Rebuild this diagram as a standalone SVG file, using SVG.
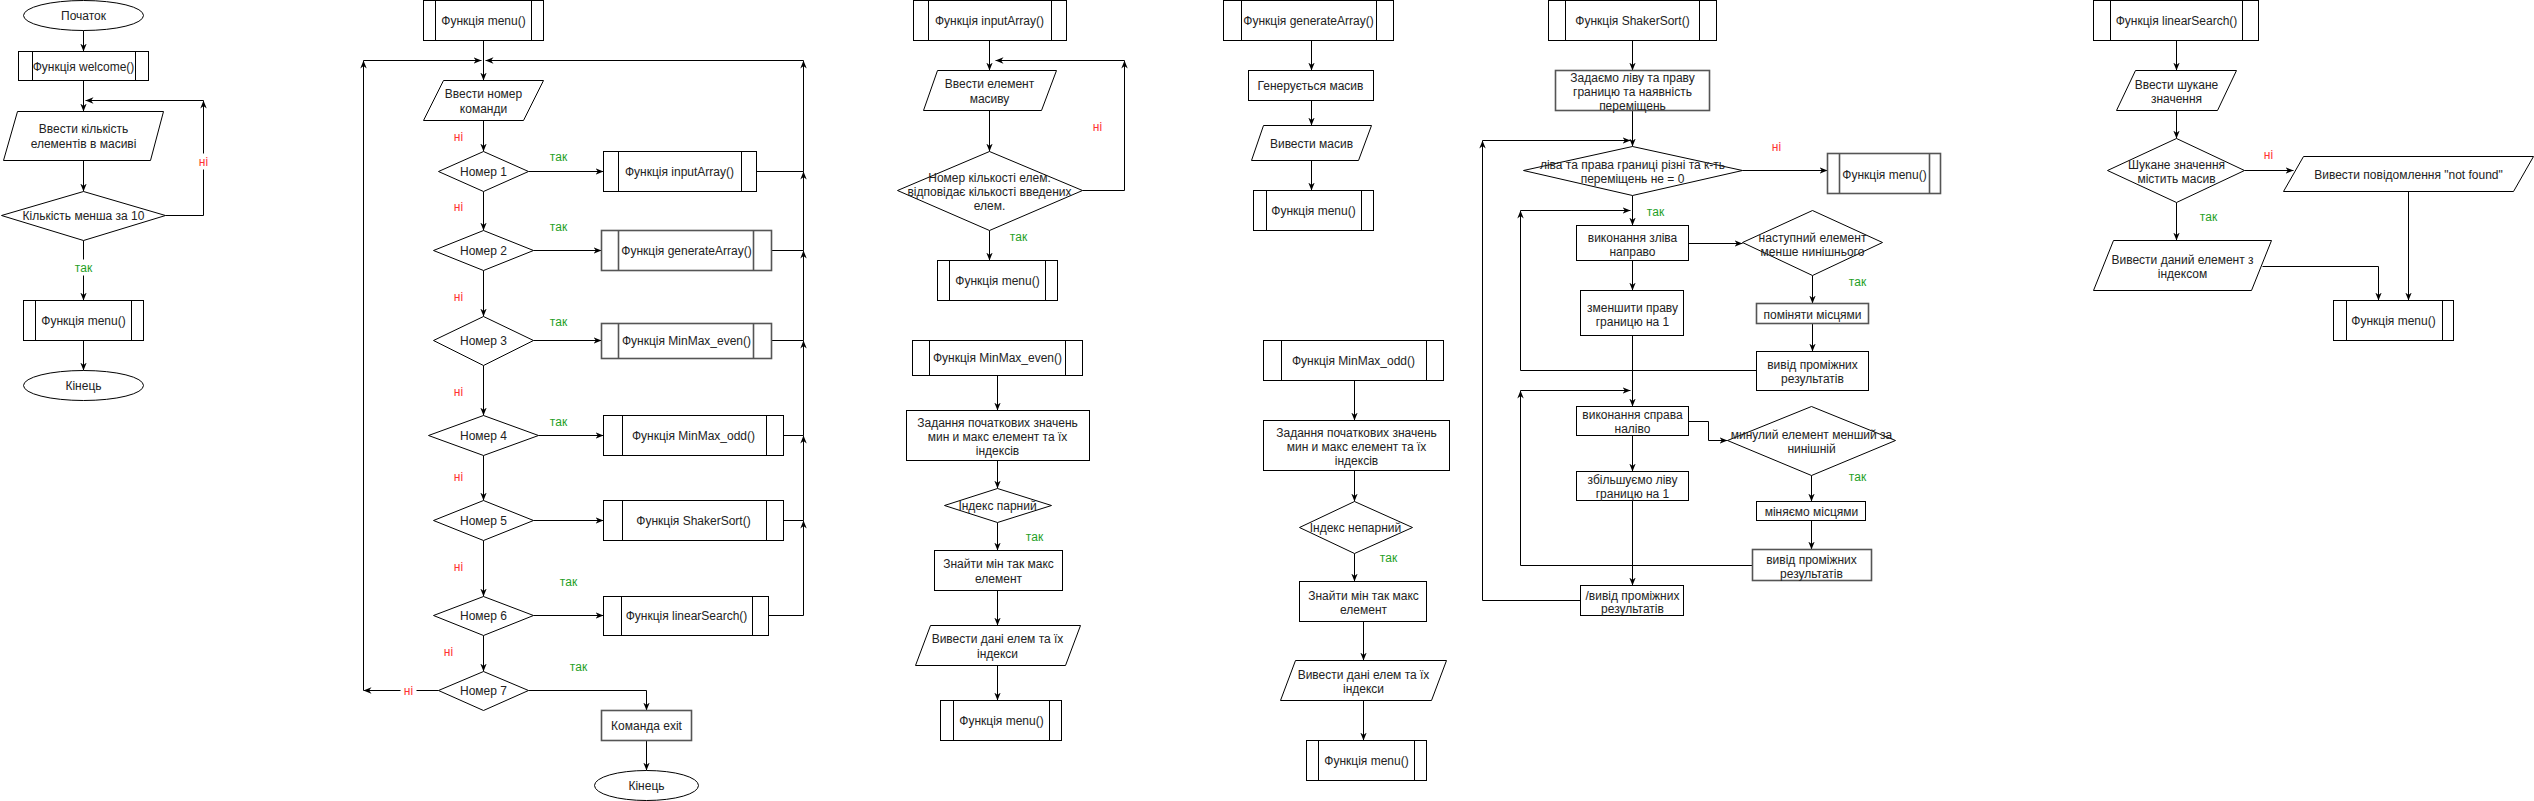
<svg xmlns="http://www.w3.org/2000/svg" width="2534" height="801" viewBox="0 0 2534 801">
<defs>
<marker id="a" viewBox="0 0 10 10" refX="10" refY="5" markerWidth="8" markerHeight="8" markerUnits="userSpaceOnUse" orient="auto">
<path d="M0,1 L10,5 L0,9 L3,5 z" fill="#000"/>
</marker>
<style>
.n rect,.n polygon,.n ellipse{fill:#fff;stroke:#000;stroke-width:1}
.n line{stroke:#000;stroke-width:1}
.n.s rect,.n.s line,.n.s polygon{stroke:#555;stroke-width:1.6}
text{font-family:"Liberation Sans",Arial,Helvetica,sans-serif;font-size:12px;fill:#222;text-anchor:middle}
.c path{fill:none;stroke:#000;stroke-width:1;marker-end:url(#a)}
.c path.p{marker-end:none}
.yes{fill:#1f9f1f}
.no{fill:#ff3333}
.bg{fill:#fff;stroke:none}
</style>
</defs>
<rect width="2534" height="801" fill="#fff"/>
<g transform="translate(0.5,0.5)">
<!-- connectors -->
<g id="connectors" class="c">
<!-- column 1 -->
<path d="M83,30 V51"/>
<path d="M83,80 V111"/>
<path d="M83,160 V191"/>
<path d="M165,215 H203 V100"/>
<path d="M203,100 H85"/>
<path d="M83,240 V300"/>
<path d="M83,340 V370"/>
<rect class="bg" x="196" y="153" width="14" height="16"/>
<text class="no" x="203" y="165">ні</text>
<rect class="bg" x="72" y="259" width="22" height="16"/>
<text class="yes" x="83" y="271">так</text>
<!-- column 2 -->
<path d="M483,40 V80"/>
<path d="M803,60 H485"/>
<path d="M363,60 H481"/>
<path d="M756,171 H803 V60"/>
<path d="M771,250 H803 V171"/>
<path d="M771,340 H803 V250"/>
<path d="M783,435 H803 V340"/>
<path d="M783,520 H803 V435"/>
<path d="M768,615 H803 V520"/>
<path d="M438,690 H363"/>
<path d="M363,690 V60"/>
<path d="M483,120 V151"/>
<path d="M528,171 H603"/>
<path d="M483,191 V230"/>
<path d="M533,250 H601"/>
<path d="M483,270 V316"/>
<path d="M533,340 H601"/>
<path d="M483,365 V415"/>
<path d="M538,435 H603"/>
<path d="M483,455 V500"/>
<path d="M533,520 H603"/>
<path d="M483,540 V596"/>
<path d="M533,615 H603"/>
<path d="M483,635 V671"/>
<path d="M528,690 H646 V710"/>
<path d="M646,740 V770"/>
<text class="no" x="458" y="140">ні</text>
<text class="yes" x="558" y="160">так</text>
<text class="no" x="458" y="210">ні</text>
<text class="yes" x="558" y="230">так</text>
<text class="no" x="458" y="300">ні</text>
<text class="yes" x="558" y="325">так</text>
<text class="no" x="458" y="395">ні</text>
<text class="yes" x="558" y="425">так</text>
<text class="no" x="458" y="480">ні</text>
<text class="no" x="458" y="570">ні</text>
<text class="yes" x="568" y="585">так</text>
<text class="no" x="448" y="655">ні</text>
<rect class="bg" x="400" y="683" width="16" height="15"/>
<text class="no" x="408" y="694">ні</text>
<text class="yes" x="578" y="670">так</text>
<!-- column 3 -->
<path d="M989,40 V70"/>
<path d="M989,110 V151"/>
<path d="M1082,190 H1124 V60"/>
<path d="M1124,60 H995"/>
<path d="M989,230 V260"/>
<text class="no" x="1097" y="130">ні</text>
<text class="yes" x="1018" y="240">так</text>
<path d="M997,375 V410"/>
<path d="M997,460 V488"/>
<path d="M997,522 V550"/>
<path d="M997,590 V625"/>
<path d="M997,665 V700"/>
<text class="yes" x="1034" y="540">так</text>
<!-- column 4 -->
<path d="M1311,40 V70"/>
<path d="M1311,100 V125"/>
<path d="M1311,160 V190"/>
<path d="M1354,380 V420"/>
<path d="M1354,470 V501"/>
<path d="M1354,553 V581"/>
<path d="M1363,621 V660"/>
<path d="M1363,700 V740"/>
<text class="yes" x="1388" y="561">так</text>
<!-- column 5 -->
<path d="M1632,40 V70"/>
<path d="M1632,110 V146"/>
<path d="M1580,600 H1482 V140"/>
<path d="M1482,140 H1630"/>
<path d="M1742,170 H1827"/>
<path d="M1632,195 V225"/>
<path d="M1756,370 H1520 V210"/>
<path d="M1520,210 H1630"/>
<path d="M1688,243 H1742"/>
<path d="M1812,275 V303"/>
<path d="M1812,323 V351"/>
<path d="M1632,260 V290"/>
<path d="M1632,335 V406"/>
<path d="M1752,565 H1520 V390"/>
<path d="M1520,390 H1630"/>
<path d="M1688,421 H1708 V440 H1727"/>
<path d="M1811,475 V501"/>
<path d="M1811,520 V549"/>
<path d="M1632,435 V471"/>
<path d="M1632,500 V585"/>
<text class="no" x="1776" y="150">ні</text>
<text class="yes" x="1655" y="215">так</text>
<text class="yes" x="1857" y="285">так</text>
<text class="yes" x="1857" y="480">так</text>
<!-- column 6 -->
<path d="M2176,40 V70"/>
<path d="M2176,110 V138"/>
<path d="M2244,170 H2293"/>
<path d="M2408,191 V300"/>
<path d="M2176,202 V240"/>
<path d="M2262,266 H2378 V300"/>
<text class="no" x="2268" y="158">ні</text>
<text class="yes" x="2208" y="220">так</text>
</g>

<!-- column 1 nodes -->
<g id="c1-start" class="n"><ellipse cx="83" cy="15" rx="60" ry="15"/><text x="83" y="19">Початок</text></g>
<g id="c1-welcome" class="n"><rect x="18" y="51" width="130" height="29"/><line x1="32" y1="51" x2="32" y2="80"/><line x1="135" y1="51" x2="135" y2="80"/><text x="83" y="70">Функція welcome()</text></g>
<g id="c1-input" class="n"><polygon points="17,111 163,111 150,160 3,160"/><text x="83" y="132">Ввести кількість</text><text x="83" y="147">елементів в масиві</text></g>
<g id="c1-check" class="n"><polygon points="83,191 165,215 83,240 1,215"/><text x="83" y="219">Кількість менша за 10</text></g>
<g id="c1-menu" class="n"><rect x="23" y="300" width="120" height="40"/><line x1="35" y1="300" x2="35" y2="340"/><line x1="131" y1="300" x2="131" y2="340"/><text x="83" y="324">Функція menu()</text></g>
<g id="c1-end" class="n"><ellipse cx="83" cy="385" rx="60" ry="15"/><text x="83" y="389">Кінець</text></g>

<!-- column 2 nodes -->
<g id="c2-menu" class="n"><rect x="423" y="0" width="120" height="40"/><line x1="435" y1="0" x2="435" y2="40"/><line x1="531" y1="0" x2="531" y2="40"/><text x="483" y="24">Функція menu()</text></g>
<g id="c2-input" class="n"><polygon points="443,80 543,80 523,120 423,120"/><text x="483" y="97">Ввести номер</text><text x="483" y="112">команди</text></g>
<g id="c2-d1" class="n"><polygon points="483,151 528,171 483,191 438,171"/><text x="483" y="175">Номер 1</text></g>
<g id="c2-f1" class="n"><rect x="603" y="151" width="153" height="40"/><line x1="618" y1="151" x2="618" y2="191"/><line x1="741" y1="151" x2="741" y2="191"/><text x="679" y="175">Функція inputArray()</text></g>
<g id="c2-d2" class="n"><polygon points="483,230 533,250 483,270 433,250"/><text x="483" y="254">Номер 2</text></g>
<g id="c2-f2" class="n s"><rect x="601" y="230" width="170" height="40"/><line x1="618" y1="230" x2="618" y2="270"/><line x1="753" y1="230" x2="753" y2="270"/><text x="686" y="254">Функція generateArray()</text></g>
<g id="c2-d3" class="n"><polygon points="483,316 533,340 483,365 433,340"/><text x="483" y="344">Номер 3</text></g>
<g id="c2-f3" class="n s"><rect x="601" y="323" width="170" height="35"/><line x1="618" y1="323" x2="618" y2="358"/><line x1="753" y1="323" x2="753" y2="358"/><text x="686" y="344">Функція MinMax_even()</text></g>
<g id="c2-d4" class="n"><polygon points="483,415 538,435 483,455 428,435"/><text x="483" y="439">Номер 4</text></g>
<g id="c2-f4" class="n"><rect x="603" y="415" width="180" height="40"/><line x1="622" y1="415" x2="622" y2="455"/><line x1="766" y1="415" x2="766" y2="455"/><text x="693" y="439">Функція MinMax_odd()</text></g>
<g id="c2-d5" class="n"><polygon points="483,500 533,520 483,540 433,520"/><text x="483" y="524">Номер 5</text></g>
<g id="c2-f5" class="n"><rect x="603" y="500" width="180" height="40"/><line x1="622" y1="500" x2="622" y2="540"/><line x1="766" y1="500" x2="766" y2="540"/><text x="693" y="524">Функція ShakerSort()</text></g>
<g id="c2-d6" class="n"><polygon points="483,596 533,615 483,635 433,615"/><text x="483" y="619">Номер 6</text></g>
<g id="c2-f6" class="n"><rect x="603" y="596" width="165" height="39"/><line x1="621" y1="596" x2="621" y2="635"/><line x1="752" y1="596" x2="752" y2="635"/><text x="686" y="619">Функція linearSearch()</text></g>
<g id="c2-d7" class="n"><polygon points="483,671 528,690 483,710 438,690"/><text x="483" y="694">Номер 7</text></g>
<g id="c2-exit" class="n s"><rect x="601" y="710" width="90" height="30"/><text x="646" y="729">Команда exit</text></g>
<g id="c2-end" class="n"><ellipse cx="646" cy="785" rx="52" ry="15"/><text x="646" y="789">Кінець</text></g>

<!-- column 3 nodes -->
<g id="c3-input-fn" class="n"><rect x="913" y="0" width="153" height="40"/><line x1="928" y1="0" x2="928" y2="40"/><line x1="1051" y1="0" x2="1051" y2="40"/><text x="989" y="24">Функція inputArray()</text></g>
<g id="c3-enter" class="n"><polygon points="937,70 1056,70 1041,110 923,110"/><text x="989" y="87">Ввести елемент</text><text x="989" y="102">масиву</text></g>
<g id="c3-check" class="n"><polygon points="989,151 1082,190 989,230 897,190"/><text x="989" y="181">Номер кількості елем.</text><text x="989" y="195">відповідає кількості введених</text><text x="989" y="209">елем.</text></g>
<g id="c3-menu" class="n"><rect x="937" y="260" width="120" height="40"/><line x1="949" y1="260" x2="949" y2="300"/><line x1="1045" y1="260" x2="1045" y2="300"/><text x="997" y="284">Функція menu()</text></g>
<g id="c3-even-fn" class="n"><rect x="912" y="340" width="170" height="35"/><line x1="929" y1="340" x2="929" y2="375"/><line x1="1065" y1="340" x2="1065" y2="375"/><text x="997" y="361">Функція MinMax_even()</text></g>
<g id="c3-init" class="n"><rect x="906" y="410" width="183" height="50"/><text x="997" y="426">Задання початкових значень</text><text x="997" y="440">мин и макс елемент та їх</text><text x="997" y="454">індексів</text></g>
<g id="c3-even" class="n"><polygon points="997,488 1051,505 997,522 944,505"/><text x="997" y="509">Індекс парний</text></g>
<g id="c3-find" class="n"><rect x="934" y="550" width="128" height="40"/><text x="998" y="567">Знайти мін так макс</text><text x="998" y="582">елемент</text></g>
<g id="c3-out" class="n"><polygon points="930,625 1080,625 1065,665 915,665"/><text x="997" y="642">Вивести дані елем та їх</text><text x="997" y="657">індекси</text></g>
<g id="c3-menu2" class="n"><rect x="940" y="700" width="121" height="40"/><line x1="953" y1="700" x2="953" y2="740"/><line x1="1049" y1="700" x2="1049" y2="740"/><text x="1001" y="724">Функція menu()</text></g>

<!-- column 4 nodes -->
<g id="c4-gen-fn" class="n"><rect x="1223" y="0" width="170" height="40"/><line x1="1241" y1="0" x2="1241" y2="40"/><line x1="1376" y1="0" x2="1376" y2="40"/><text x="1308" y="24">Функція generateArray()</text></g>
<g id="c4-gen" class="n"><rect x="1248" y="70" width="125" height="30"/><text x="1310" y="89">Генерується масив</text></g>
<g id="c4-out" class="n"><polygon points="1263,125 1371,125 1358,160 1251,160"/><text x="1311" y="147">Вивести масив</text></g>
<g id="c4-menu" class="n"><rect x="1253" y="190" width="120" height="40"/><line x1="1266" y1="190" x2="1266" y2="230"/><line x1="1361" y1="190" x2="1361" y2="230"/><text x="1313" y="214">Функція menu()</text></g>
<g id="c4-odd-fn" class="n"><rect x="1263" y="340" width="180" height="40"/><line x1="1281" y1="340" x2="1281" y2="380"/><line x1="1426" y1="340" x2="1426" y2="380"/><text x="1353" y="364">Функція MinMax_odd()</text></g>
<g id="c4-init" class="n"><rect x="1263" y="420" width="186" height="50"/><text x="1356" y="436">Задання початкових значень</text><text x="1356" y="450">мин и макс елемент та їх</text><text x="1356" y="464">індексів</text></g>
<g id="c4-odd" class="n"><polygon points="1354,501 1412,527 1354,553 1299,527"/><text x="1355" y="531">Індекс непарний</text></g>
<g id="c4-find" class="n"><rect x="1299" y="581" width="127" height="40"/><text x="1363" y="599">Знайти мін так макс</text><text x="1363" y="613">елемент</text></g>
<g id="c4-out2" class="n"><polygon points="1295,660 1446,660 1431,700 1280,700"/><text x="1363" y="678">Вивести дані елем та їх</text><text x="1363" y="692">індекси</text></g>
<g id="c4-menu2" class="n"><rect x="1306" y="740" width="120" height="40"/><line x1="1318" y1="740" x2="1318" y2="780"/><line x1="1414" y1="740" x2="1414" y2="780"/><text x="1366" y="764">Функція menu()</text></g>

<!-- column 5 nodes -->
<g id="c5-fn" class="n"><rect x="1548" y="0" width="168" height="40"/><line x1="1565" y1="0" x2="1565" y2="40"/><line x1="1699" y1="0" x2="1699" y2="40"/><text x="1632" y="24">Функція ShakerSort()</text></g>
<g id="c5-init" class="n s"><rect x="1555" y="70" width="154" height="40"/><text x="1632" y="81">Задаємо ліву та праву</text><text x="1632" y="95">границю та наявність</text><text x="1632" y="109">переміщень</text></g>
<g id="c5-cond" class="n"><polygon points="1632,146 1742,170 1632,195 1523,170"/><text x="1632" y="168">ліва та права границі різні та к-ть</text><text x="1632" y="182">переміщень не = 0</text></g>
<g id="c5-menu" class="n s"><rect x="1827" y="153" width="113" height="40"/><line x1="1839" y1="153" x2="1839" y2="193"/><line x1="1929" y1="153" x2="1929" y2="193"/><text x="1884" y="178">Функція menu()</text></g>
<g id="c5-ltr" class="n"><rect x="1576" y="225" width="112" height="35"/><text x="1632" y="241">виконання зліва</text><text x="1632" y="255">направо</text></g>
<g id="c5-next" class="n"><polygon points="1812,210 1882,242 1812,275 1742,242"/><text x="1812" y="241">наступний елемент</text><text x="1812" y="255">менше нинішнього</text></g>
<g id="c5-swap1" class="n s"><rect x="1756" y="303" width="112" height="20"/><text x="1812" y="318">поміняти місцями</text></g>
<g id="c5-out1" class="n"><rect x="1756" y="351" width="112" height="39"/><text x="1812" y="368">вивід проміжних</text><text x="1812" y="382">результатів</text></g>
<g id="c5-dec" class="n"><rect x="1580" y="290" width="103" height="45"/><text x="1632" y="311">зменшити праву</text><text x="1632" y="325">границю на 1</text></g>
<g id="c5-rtl" class="n"><rect x="1576" y="406" width="112" height="29"/><text x="1632" y="418">виконання справа</text><text x="1632" y="432">наліво</text></g>
<g id="c5-prev" class="n"><polygon points="1811,406 1895,440 1811,475 1727,440"/><text x="1811" y="438">минулий елемент менший за</text><text x="1811" y="452">нинішній</text></g>
<g id="c5-swap2" class="n"><rect x="1756" y="501" width="109" height="19"/><text x="1811" y="515">міняємо місцями</text></g>
<g id="c5-out2" class="n s"><rect x="1752" y="549" width="119" height="31"/><text x="1811" y="563">вивід проміжних</text><text x="1811" y="577">результатів</text></g>
<g id="c5-inc" class="n"><rect x="1576" y="471" width="112" height="29"/><text x="1632" y="483">збільшуємо ліву</text><text x="1632" y="497">границю на 1</text></g>
<g id="c5-out3" class="n"><rect x="1580" y="585" width="103" height="30"/><text x="1632" y="599">/вивід проміжних</text><text x="1632" y="612">результатів</text></g>

<!-- column 6 nodes -->
<g id="c6-fn" class="n"><rect x="2093" y="0" width="165" height="40"/><line x1="2110" y1="0" x2="2110" y2="40"/><line x1="2242" y1="0" x2="2242" y2="40"/><text x="2176" y="24">Функція linearSearch()</text></g>
<g id="c6-in" class="n"><polygon points="2135,70 2236,70 2217,110 2116,110"/><text x="2176" y="88">Ввести шукане</text><text x="2176" y="102">значення</text></g>
<g id="c6-cond" class="n"><polygon points="2176,138 2244,170 2176,202 2107,170"/><text x="2176" y="168">Шукане значення</text><text x="2176" y="182">містить масив</text></g>
<g id="c6-nf" class="n"><polygon points="2303,156 2533,156 2513,191 2283,191"/><text x="2408" y="178">Вивести повідомлення "not found"</text></g>
<g id="c6-found" class="n"><polygon points="2113,240 2271,240 2251,290 2093,290"/><text x="2182" y="263">Вивести даний елемент з</text><text x="2182" y="277">індексом</text></g>
<g id="c6-menu" class="n"><rect x="2333" y="300" width="120" height="40"/><line x1="2346" y1="300" x2="2346" y2="340"/><line x1="2442" y1="300" x2="2442" y2="340"/><text x="2393" y="324">Функція menu()</text></g>
</g>
</svg>
